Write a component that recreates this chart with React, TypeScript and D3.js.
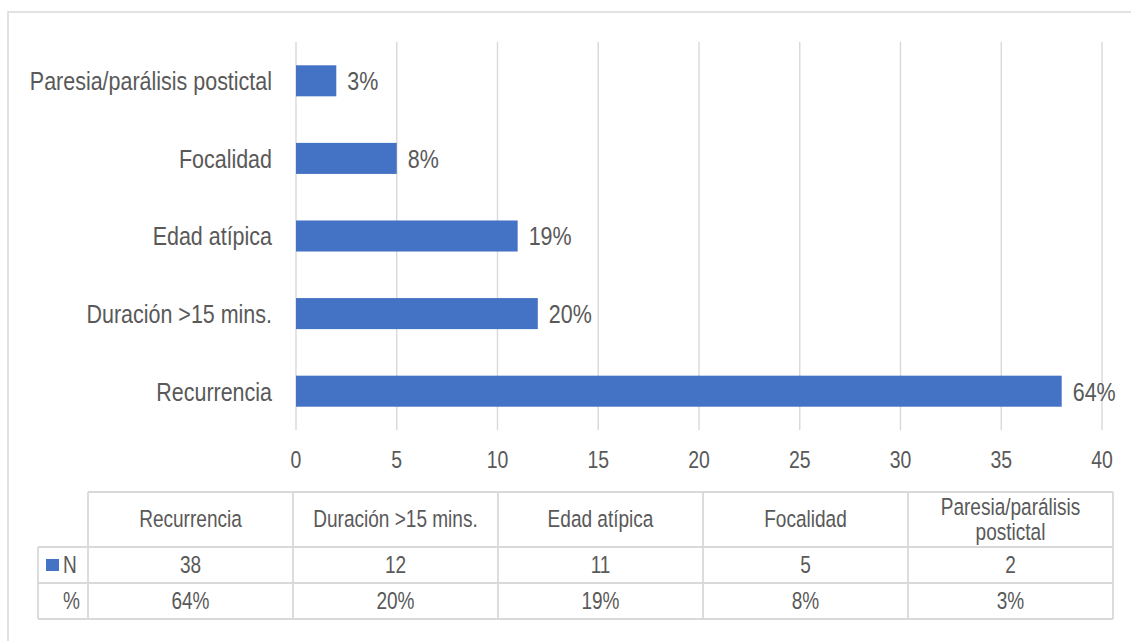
import React from "react";
import * as d3 from "d3";

const categories = ["Recurrencia", "Duración >15 mins.", "Edad atípica", "Focalidad", "Paresia/parálisis postictal"];
const counts = [38, 12, 11, 5, 2];
const percents = ["64%", "20%", "19%", "8%", "3%"];
const xTicks = [0, 5, 10, 15, 20, 25, 30, 35, 40];
const seriesName = "N";
const percentRowName = "%";

const W = 1131;
const H = 641;
const FONT = "'Liberation Sans', Arial, sans-serif";
const SX = 0.81;
const TEXT = "#595959";
const GRID = "#d9d9d9";
const BAR = "#4472C4";

function measure(text: string, size: number): number {
  if (typeof document === "undefined") return text.length * size * 0.5 * SX;
  const c = document.createElement("canvas");
  const ctx = c.getContext("2d");
  if (!ctx) return text.length * size * 0.5 * SX;
  ctx.font = `${size}px ${FONT}`;
  return ctx.measureText(text).width * SX;
}

function wrap(text: string, size: number, maxW: number): string[] {
  const words = text.split(" ");
  const lines: string[] = [];
  let cur = "";
  for (const w of words) {
    const t = cur ? cur + " " + w : w;
    if (measure(t, size) > maxW && cur) {
      lines.push(cur);
      cur = w;
    } else cur = t;
  }
  if (cur) lines.push(cur);
  return lines;
}

type NTProps = {
  x: number;
  y: number;
  size: number;
  anchor?: "start" | "middle" | "end";
  children: React.ReactNode;
};

function NText({ x, y, size, anchor = "start", children }: NTProps) {
  return (
    <g transform={`translate(${x},${y}) scale(${SX},1)`}>
      <text x={0} y={0} fill={TEXT} fontSize={size} textAnchor={anchor} dominantBaseline="central">
        {children}
      </text>
    </g>
  );
}

export default function App() {
  const x = d3.scaleLinear().domain([0, 40]).range([296, 1102]);
  const y = d3
    .scaleBand<string>()
    .domain([...categories].reverse())
    .range([42, 430])
    .paddingInner(0.6)
    .paddingOuter(0.3);

  const tableLeft = 38;
  const colStart = 88;
  const colEnd = 1113;
  const col = d3.scaleBand<string>().domain(categories).range([colStart, colEnd]);
  const rowTop = 492;
  const rowH1 = 547;
  const rowH2 = 583;
  const rowBottom = 619;

  const chartFont = 26.5;
  const axisFont = 24;
  const tableFont = 23.5;

  return (
    <svg width={W} height={H} style={{ position: "absolute", left: 0, top: 0, background: "#fff" }} fontFamily={FONT}>
      <rect x={8} y={12} width={W + 10} height={H + 10} fill="#fff" stroke={GRID} strokeWidth={1.5} />
      {xTicks.map((t) => (
        <g key={t}>
          <line x1={x(t)} x2={x(t)} y1={42} y2={430} stroke={GRID} strokeWidth={1.4} />
          <NText x={x(t)} y={460} size={axisFont} anchor="middle">
            {t}
          </NText>
        </g>
      ))}
      {categories.map((c, i) => {
        const yy = y(c)!;
        const bw = y.bandwidth();
        return (
          <g key={c}>
            <rect x={x(0)} y={yy} width={x(counts[i]) - x(0)} height={bw} fill={BAR} />
            <NText x={272} y={yy + bw / 2} size={chartFont} anchor="end">
              {c}
            </NText>
            <NText x={x(counts[i]) + 11} y={yy + bw / 2} size={chartFont}>
              {percents[i]}
            </NText>
          </g>
        );
      })}
      {/* data table */}
      <g stroke={GRID} strokeWidth={1.8} fill="none">
        <line x1={colStart} x2={colEnd} y1={rowTop} y2={rowTop} />
        <line x1={tableLeft} x2={colEnd} y1={rowH1} y2={rowH1} />
        <line x1={tableLeft} x2={colEnd} y1={rowH2} y2={rowH2} />
        <line x1={tableLeft} x2={colEnd} y1={rowBottom} y2={rowBottom} />
        <line x1={tableLeft} x2={tableLeft} y1={rowH1} y2={rowBottom} />
        {categories.map((c) => (
          <line key={c} x1={col(c)!} x2={col(c)!} y1={rowTop} y2={rowBottom} />
        ))}
        <line x1={colEnd} x2={colEnd} y1={rowTop} y2={rowBottom} />
      </g>
      {categories.map((c, i) => {
        const cx = col(c)! + col.bandwidth() / 2;
        const lines = wrap(c, tableFont, col.bandwidth() - 14);
        const lh = 25;
        const mid = (rowTop + rowH1) / 2;
        return (
          <g key={c}>
            {lines.map((l, k) => (
              <NText key={k} x={cx} y={mid + (k - (lines.length - 1) / 2) * lh} size={tableFont} anchor="middle">
                {l}
              </NText>
            ))}
            <NText x={cx} y={(rowH1 + rowH2) / 2} size={tableFont} anchor="middle">
              {counts[i]}
            </NText>
            <NText x={cx} y={(rowH2 + rowBottom) / 2} size={tableFont} anchor="middle">
              {percents[i]}
            </NText>
          </g>
        );
      })}
      <rect x={46} y={559} width={13} height={12} fill={BAR} />
      <NText x={63} y={(rowH1 + rowH2) / 2} size={tableFont}>
        {seriesName}
      </NText>
      <NText x={80} y={(rowH2 + rowBottom) / 2} size={tableFont} anchor="end">
        {percentRowName}
      </NText>
    </svg>
  );
}
